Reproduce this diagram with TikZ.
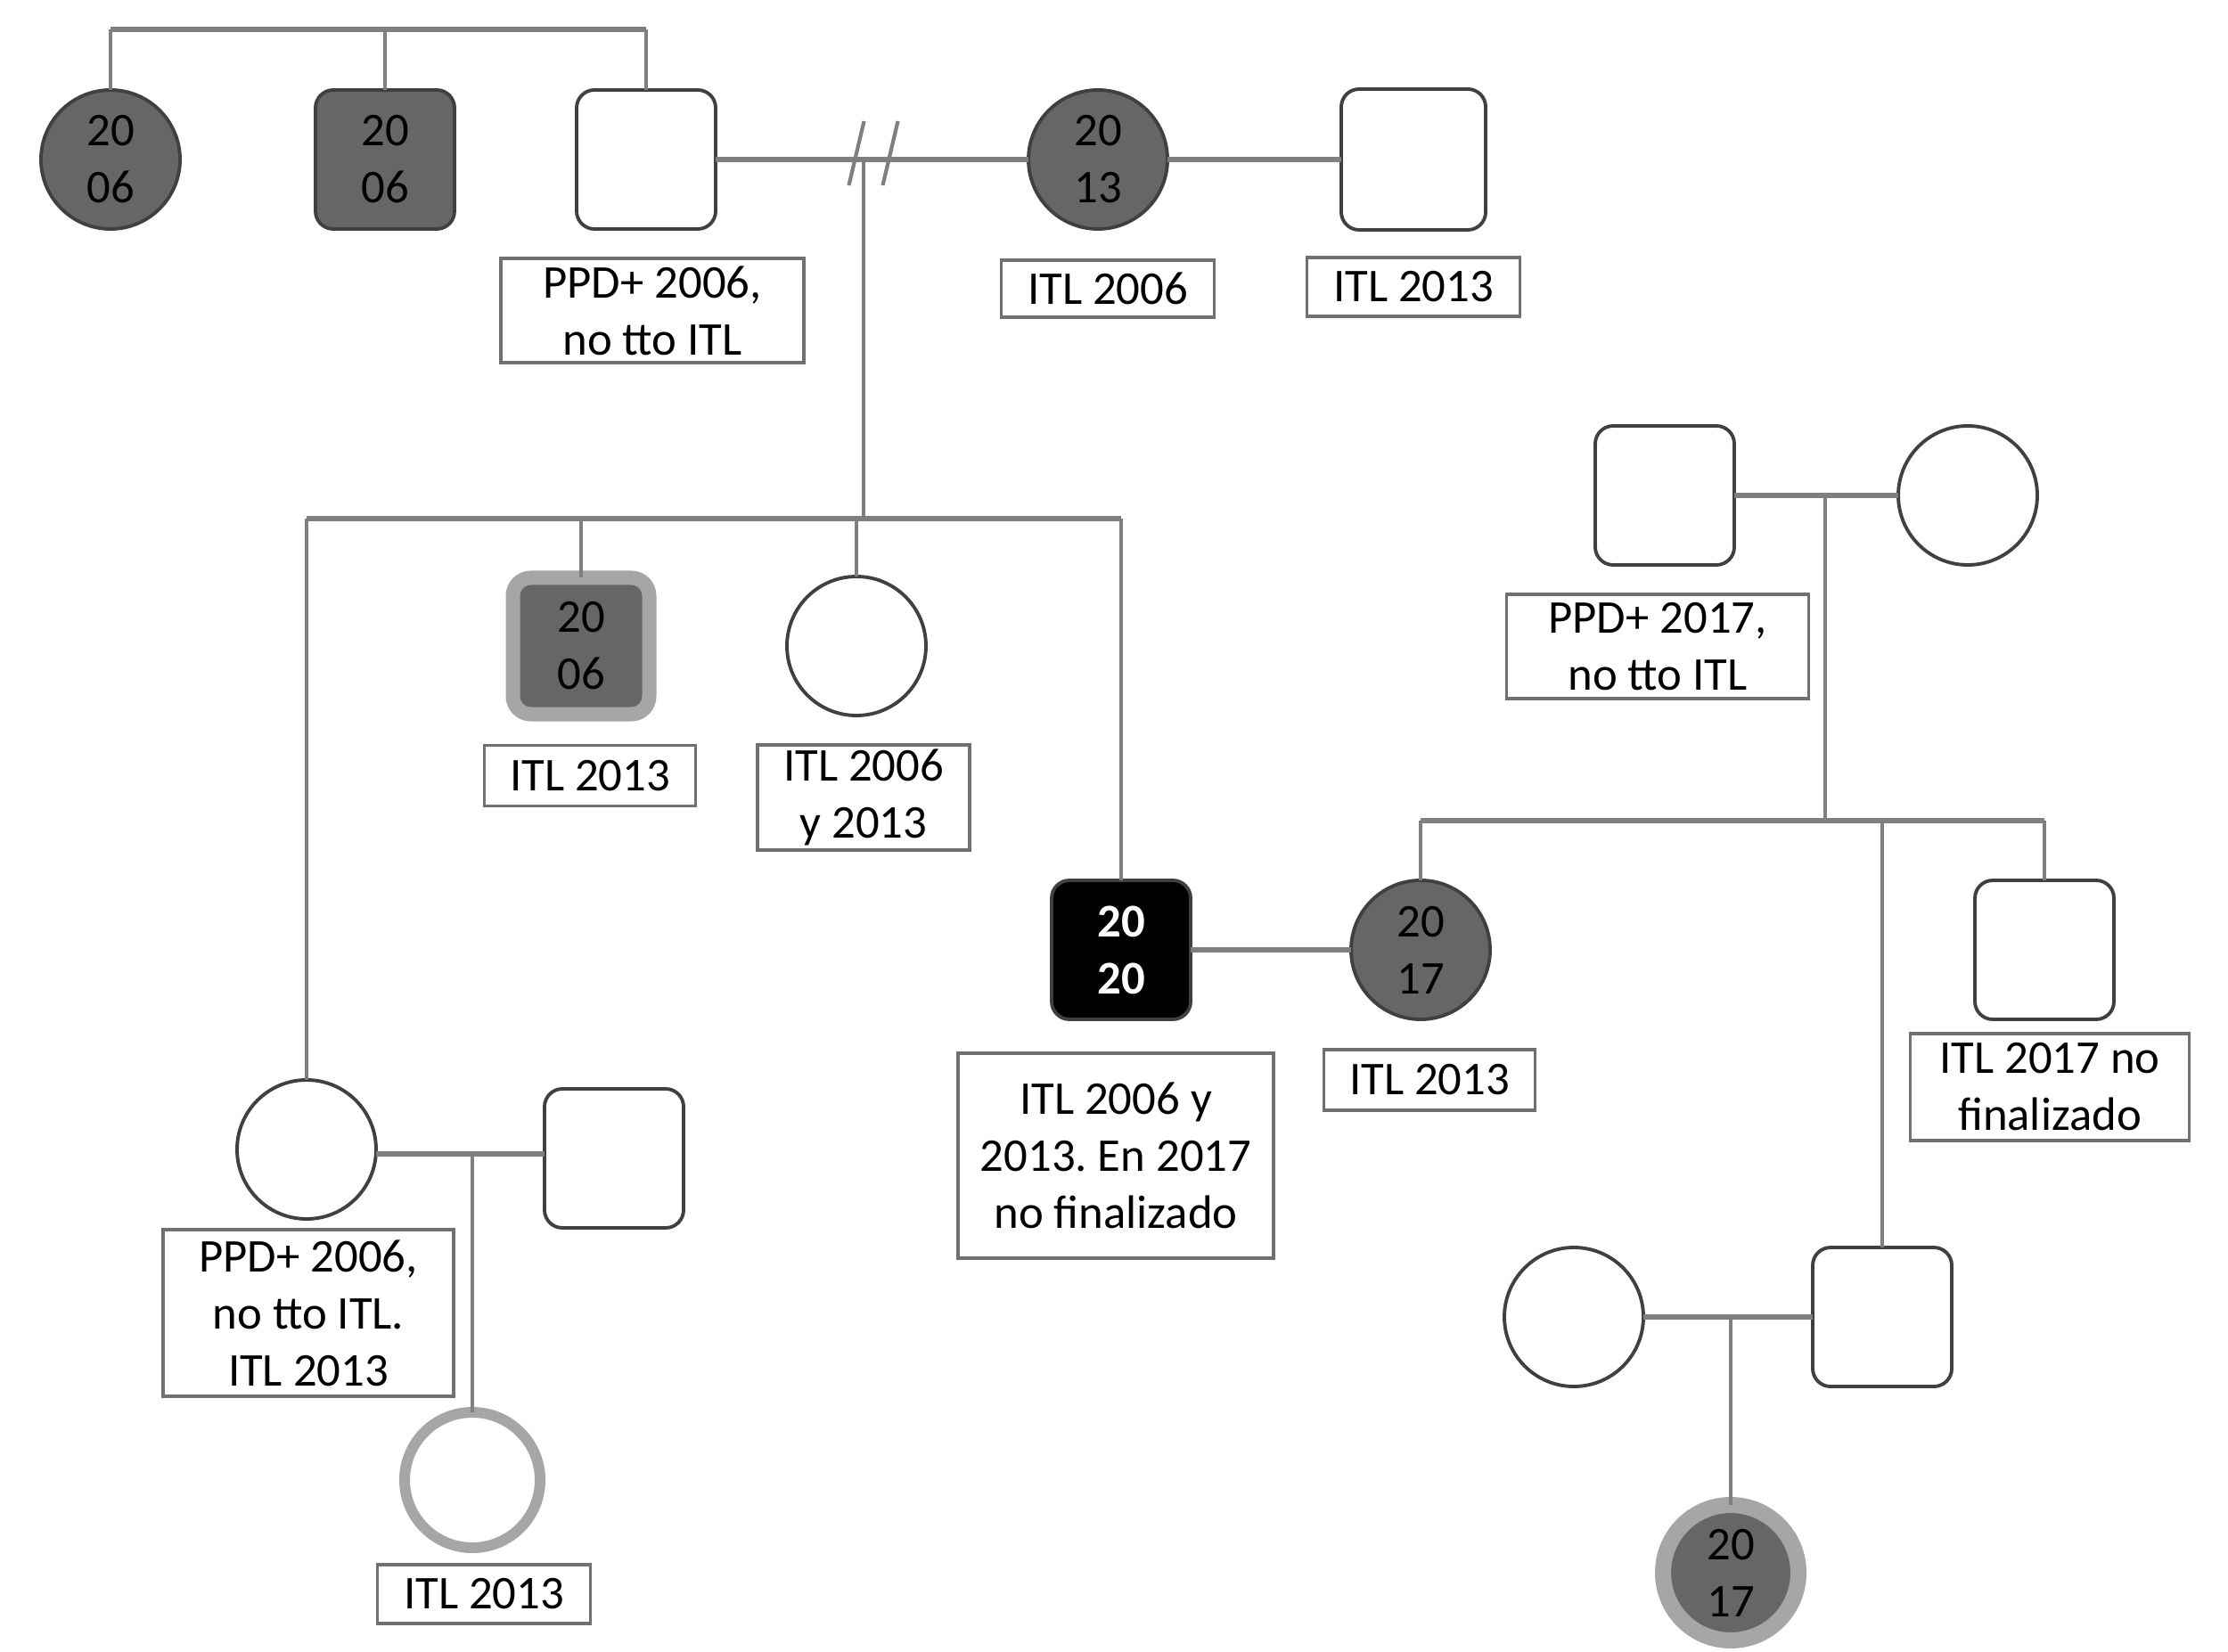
\documentclass[tikz,border=0pt]{standalone}
\usepackage{fontspec}
\setmainfont{Carlito}
\usetikzlibrary{positioning}
\definecolor{pedline}{HTML}{7F7F7F}
\definecolor{pededge}{HTML}{404040}
\definecolor{pedgray}{HTML}{666666}
\definecolor{pedlight}{HTML}{A6A6A6}
\definecolor{notebox}{HTML}{707070}
\newcommand{\pedfont}{\fontsize{15}{18.2}\selectfont}
\frenchspacing

\begin{document}
\begin{tikzpicture}[
      male/.style={
        rectangle, rounded corners=0.2cm,
        minimum width=1.56cm, minimum height=1.56cm,
        draw=pededge, line width=1.1pt, fill=white, outer sep=0pt,
        inner sep=0pt, font=\pedfont, align=center
      },
      female/.style={
        circle, minimum size=1.56cm,
        draw=pededge, line width=1.1pt, fill=white, outer sep=0pt,
        inner sep=0pt, font=\pedfont, align=center
      },
      ill/.style={fill=pedgray},
      ringed/.style={draw=pedlight, line width=0.16cm, minimum size=1.53cm},
      note/.style={
        rectangle, draw=notebox, line width=1.1pt, fill=white,
        outer sep=0pt, inner sep=0pt, font=\pedfont, align=center
      },
      couple/.style={pedline, line width=1.6pt},
      drop/.style={pedline, line width=1.2pt}
    ]
      \path[fill=white, use as bounding box] (0,0) rectangle (25,-18.54);

      % Top generation
      \node[female, ill] (c1) at (1.24,-1.79) {20\\06};
      \node[male, ill] (s1) at (4.32,-1.79) {20\\06};
      \node[male] (s2) at (7.25,-1.79) {};
      \node[female, ill] (c2) at (12.32,-1.79) {20\\13};
      \node[male, minimum width=1.62cm, minimum height=1.58cm] (s3) at (15.86,-1.79) {};

      \node[note, minimum width=3.40cm, minimum height=1.17cm, below=0.33cm of s2, xshift=0.07cm] (n1) {PPD+ 2006,\\no tto ITL};
      \node[note, minimum width=2.39cm, minimum height=0.64cm, below=0.35cm of c2, xshift=0.11cm] (n2) {ITL 2006};
      \node[note, minimum width=2.39cm, minimum height=0.66cm, below=0.31cm of s3] (n3) {ITL 2013};

      % Second generation
      \node[male, ill, ringed] (s4) at (6.52,-7.25) {20\\06};
      \node[female] (c4) at (9.61,-7.25) {};
      \node[male, fill=black, text=white, font=\pedfont\bfseries] (s5) at (12.58,-10.66) {20\\20};
      \node[female, ill] (c5) at (15.94,-10.66) {20\\17};
      \node[female] (c3) at (3.44,-12.90) {};
      \node[male] (s9) at (6.89,-13.00) {};

      \node[note, minimum width=2.37cm, minimum height=0.68cm, below=0.35cm of s4, xshift=0.10cm] (n4) {ITL 2013};
      \node[note, minimum width=2.38cm, minimum height=1.18cm, below=0.33cm of c4, xshift=0.08cm] (n5) {ITL 2006\\y 2013};
      \node[note, minimum width=3.54cm, minimum height=2.30cm, below=0.38cm of s5, xshift=-0.06cm] (n6) {ITL 2006 y\\2013. En 2017\\no finalizado};
      \node[note, minimum width=2.37cm, minimum height=0.68cm, below=0.34cm of c5, xshift=0.10cm] (n7) {ITL 2013};
      \node[note, minimum width=3.26cm, minimum height=1.87cm, below=0.12cm of c3, xshift=0.02cm] (n10) {PPD+ 2006,\\no tto ITL.\\ITL 2013};

      % Right family
      \node[male] (s6) at (18.68,-5.56) {};
      \node[female] (c6) at (22.08,-5.56) {};
      \node[male] (s7) at (22.94,-10.66) {};
      \node[female] (c7) at (17.66,-14.78) {};
      \node[male] (s8) at (21.12,-14.78) {};

      \node[note, minimum width=3.39cm, minimum height=1.17cm, below=0.33cm of s6, xshift=-0.08cm] (n8) {PPD+ 2017,\\no tto ITL};
      \node[note, minimum width=3.13cm, minimum height=1.20cm, below=0.16cm of s7, xshift=0.06cm] (n9) {ITL 2017 no\\finalizado};

      % Third generation
      \node[female, ringed, line width=0.12cm, minimum size=1.52cm] (c9) at (5.30,-16.61) {};
      \node[female, ill, ringed, line width=0.18cm, minimum size=1.52cm] (c8) at (19.42,-17.65) {20\\17};

      \node[note, minimum width=2.39cm, minimum height=0.66cm, below=0.19cm of c9, xshift=0.13cm] (n11) {ITL 2013};

      % Lines of descent
      \coordinate (topbar) at (0,-0.33);
      \draw[couple] (c1.north |- topbar) -- (s2.north |- topbar);
      \foreach \k in {c1,s1,s2}
        \draw[drop] (\k.north) -- (\k.north |- topbar);

      \draw[couple] (s2) -- (c2);
      \draw[couple] (c2) -- (s3);
      \coordinate (brk) at (9.80,-1.72);
      \draw[drop] ([xshift=-0.19cm]brk) ++(0.085,0.36) -- ++(-0.17,-0.72);
      \draw[drop] ([xshift=0.19cm]brk) ++(0.085,0.36) -- ++(-0.17,-0.72);

      \coordinate (m1) at (9.69,-1.79);
      \coordinate (sib2) at (0,-5.82);
      \draw[drop] (m1) -- (m1 |- sib2);
      \draw[couple] (c3.north |- sib2) -- (s5.north |- sib2);
      \foreach \k in {c3,s4,c4,s5}
        \draw[drop] (\k.north) -- (\k.north |- sib2);

      \draw[couple] (s5) -- (c5);

      \draw[couple] (s6) -- (c6);
      \coordinate (m2) at (20.48,-5.56);
      \coordinate (sib3) at (0,-9.21);
      \draw[drop] (m2) -- (m2 |- sib3);
      \draw[couple] (c5.north |- sib3) -- (s7.north |- sib3);
      \foreach \k in {c5,s7,s8}
        \draw[drop] (\k.north) -- (\k.north |- sib3);

      \draw[couple] (c7) -- (s8);
      \coordinate (m3) at (19.42,-14.78);
      \draw[drop] (m3) -- (m3 |- c8.north);

      \coordinate (m4) at (5.30,-12.95);
      \draw[couple] (m4 -| c3.east) -- (m4 -| s9.west);
      \draw[drop] (m4) -- (m4 |- c9.north);
    \end{tikzpicture}
\end{document}
